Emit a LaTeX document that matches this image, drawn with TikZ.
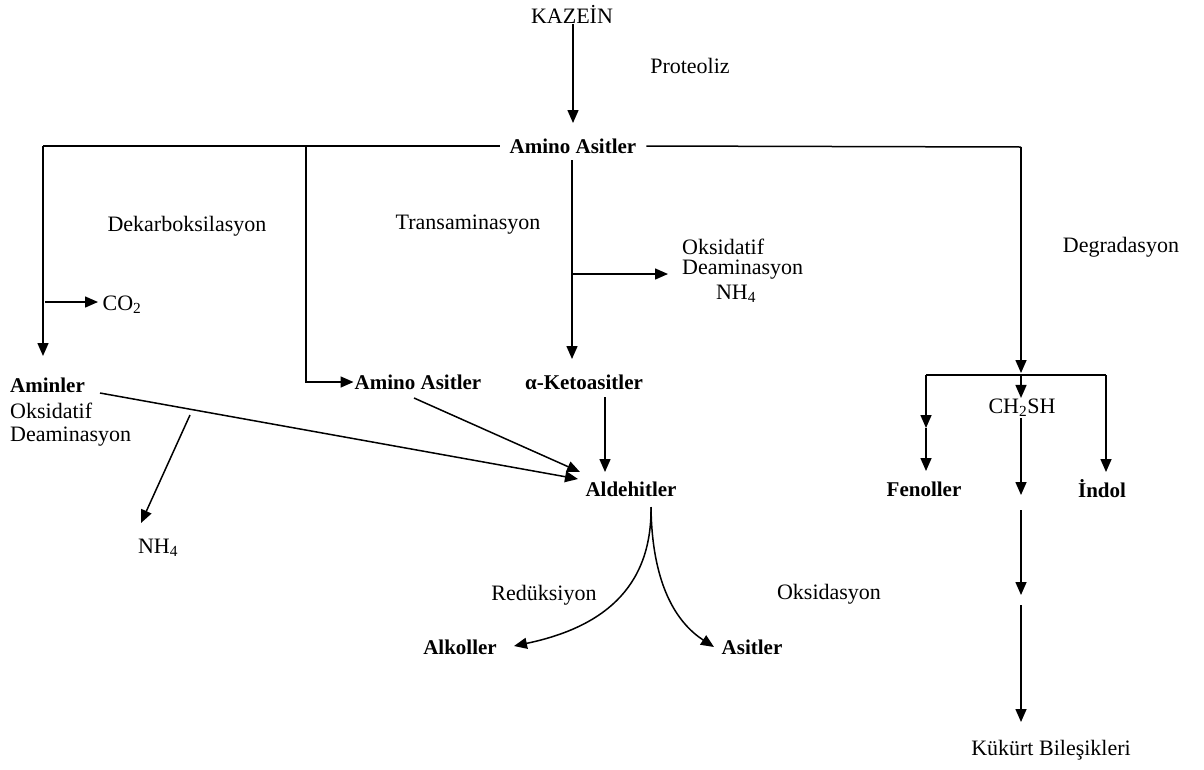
\documentclass[tikz,border=0pt]{standalone}
\usepackage{fontspec}
\setmainfont{Liberation Serif}
\usetikzlibrary{arrows.meta}
\begin{document}
\begin{tikzpicture}[x=1pt,y=-1pt,
  lbl/.style={font=\fontsize{22}{26}\selectfont,inner sep=1pt},
  bld/.style={font=\fontsize{21}{25}\selectfont\bfseries,inner sep=1pt},
  ln/.style={line width=1.5pt},
  arr/.style={line width=1.5pt,-{Triangle[length=13pt,width=11pt]}}]
\useasboundingbox (0,0) rectangle (1204,769);
% nodes
\node[lbl] (kazein) at (572,14) {KAZEİN};
\node[lbl] (proteoliz) at (690,66) {Proteoliz};
\node[bld,inner xsep=10pt] (aa) at (573,146) {Amino Asitler};
\node[lbl] (dekarb) at (187,226) {Dekarboksilasyon};
\node[lbl] (trans) at (468,225) {Transaminasyon};
\node[lbl] (degr) at (1121,247) {Degradasyon};
\node[lbl] (co2) at (122,305) {CO\textsubscript{2}};
\node[bld,anchor=west] (aminler) at (9,385) {Aminler};
\node[lbl,anchor=west] (oks1) at (9,411) {Oksidatif};
\node[lbl,anchor=west] (deam1) at (9,437) {Deaminasyon};
\node[lbl] (nh4a) at (158,548) {NH\textsubscript{4}};
\node[bld] (aa2) at (418,382) {Amino Asitler};
\node[bld] (keto) at (584,382) {α-Ketoasitler};
\node[lbl,anchor=west] (oks2) at (681,247) {Oksidatif};
\node[lbl,anchor=west] (deam2) at (681,270) {Deaminasyon};
\node[lbl] (nh4b) at (736,294) {NH\textsubscript{4}};
\node[bld] (ald) at (631,489) {Aldehitler};
\node[bld] (alk) at (460,647) {Alkoller};
\node[bld] (asit) at (752,647) {Asitler};
\node[lbl] (redu) at (544,595) {Redüksiyon};
\node[lbl] (oksid) at (829,594) {Oksidasyon};
\node[lbl] (ch2sh) at (1022,408) {CH\textsubscript{2}SH};
\node[bld] (fen) at (924,489) {Fenoller};
\node[bld] (indol) at (1102,489) {İndol};
\node[lbl] (kuk) at (1051,750) {Kükürt Bileşikleri};
% coordinates
\coordinate (tKz) at (573,123);
\coordinate (cL) at (43,146);
\coordinate (tL) at (43,356);
\coordinate (cco) at (45,302);
\coordinate (tco) at (98,302);
\coordinate (cM) at (306,146);
\coordinate (cMb) at (306,382);
\coordinate (cK) at (572,160);
\coordinate (tKk) at (572,359);
\coordinate (cKb) at (572,274);
\coordinate (tK) at (668,274);
\coordinate (cR) at (1021,147);
\coordinate (tR) at (1021,373);
\coordinate (bR) at (1021,375);
\coordinate (bL) at (926,375);
\coordinate (bRR) at (1106,375);
\coordinate (mF) at (926,428);
\coordinate (tF) at (926,471);
\coordinate (tI) at (1106,472);
\coordinate (m1) at (1021,495);
\coordinate (m1s) at (1021,510);
\coordinate (m2) at (1021,595);
\coordinate (m2s) at (1021,605);
\coordinate (tKu) at (1021,722);
\coordinate (sAm) at (100,393);
\coordinate (tAm) at (578,479);
\coordinate (sAa) at (414,398);
\coordinate (tAa) at (580,472);
\coordinate (sKe) at (605,397);
\coordinate (tKe) at (605,472);
\coordinate (sNh) at (190,415);
\coordinate (tNh) at (141,523);
\coordinate (sAl) at (651,507);
\coordinate (tAlk) at (514,646);
\coordinate (tAs) at (714,647);
% connectors
\draw[arr] (kazein.south -| tKz) -- (tKz);
\draw[ln] (aa.west) -- (cL);
\draw[arr] (cL) -- (tL);
\draw[arr] (cco) -- (tco);
\draw[arr] (cM) -- (cMb) -- (aa2.west);
\draw[arr] (cK) -- (tKk);
\draw[arr] (cKb) -- (tK);
\draw[ln] (aa.east) -- (cR);
\draw[arr] (cR) -- (tR);
\draw[ln] (bL) -- (bRR);
\draw[arr] (bR) -- (bR |- ch2sh.north);
\draw[arr] (bL) -- (mF);
\draw[arr] (mF) -- (tF);
\draw[arr] (bRR) -- (tI);
\draw[arr] (ch2sh.south -| m1) -- (m1);
\draw[arr] (m1s) -- (m2);
\draw[arr] (m2s) -- (tKu);
\draw[arr] (sAm) -- (tAm);
\draw[arr] (sAa) -- (tAa);
\draw[arr] (sKe) -- (tKe);
\draw[arr] (sNh) -- (tNh);
\draw[arr] (sAl) .. controls (652,590) and (600,628) .. (tAlk);
\draw[arr] (sAl) .. controls (652,590) and (680,625) .. (tAs);
\end{tikzpicture}
\end{document}
